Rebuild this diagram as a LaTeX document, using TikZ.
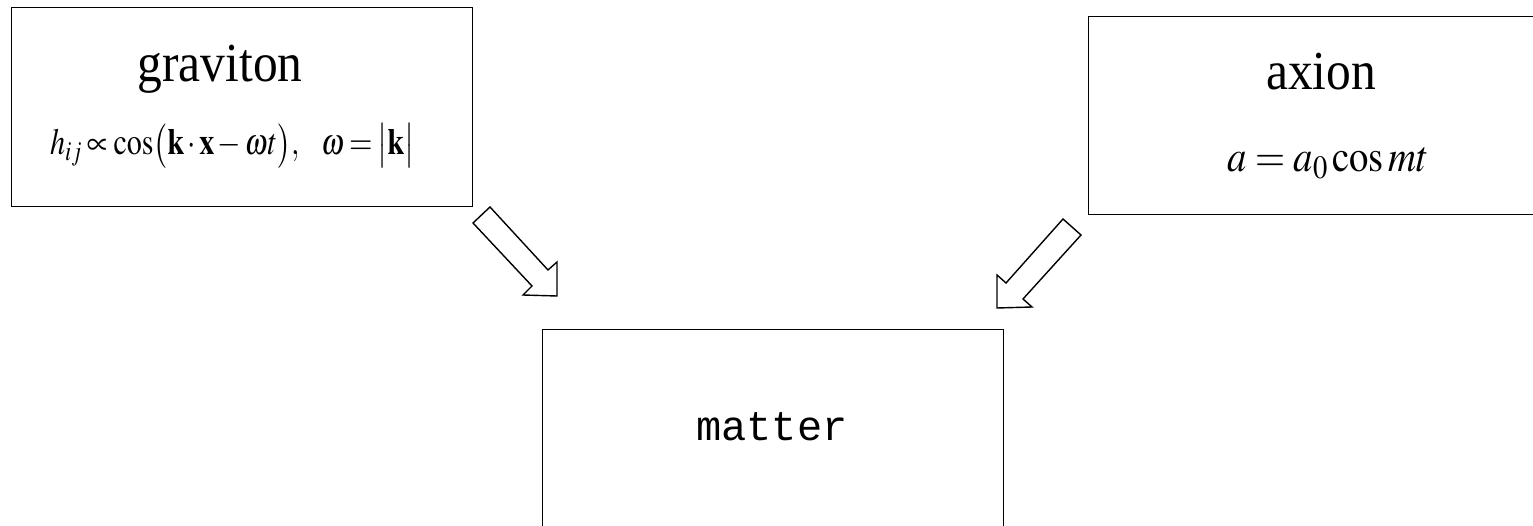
\documentclass[tikz,border=0pt]{standalone}
\usepackage{mathptmx}
\usepackage{fontspec}
\setmainfont{Liberation Serif}
\setmonofont{Liberation Mono}
\begin{document}
\begin{tikzpicture}[x=1pt,y=-1pt,
  box/.style={draw, line width=1.4pt, anchor=north west, inner sep=0pt},
  blockarrow/.style={draw, line width=1.4pt, fill=white, line join=miter},
  lbl/.style={anchor=base, inner sep=0pt},
  eq/.style={anchor=base west, inner sep=0pt}]
\useasboundingbox (0,0) rectangle (1533,526);
% boxes
\node[box, minimum width=461pt, minimum height=199pt] (grav) at (11,7) {};
\node[box, minimum width=460pt, minimum height=198pt] (axion) at (1088,16) {};
\node[box, minimum width=461pt, minimum height=230pt] (matter) at (542,329) {};
% texts
\node[lbl, xscale=0.9, font=\fontsize{55}{62}\selectfont] (gravt) at (220,82) {graviton};
\node[eq, xscale=0.815, font=\fontsize{37}{42}\selectfont] (grave) at (50,155)
  {\medmuskip=2mu\thickmuskip=3mu$h_{ij}\propto\cos\bigl(\mathbf{k}\cdot\mathbf{x}-\omega t\bigr),\hspace{0.6em}\omega=\bigl|\mathbf{k}\bigr|$};
\node[lbl, xscale=0.9, font=\fontsize{55}{62}\selectfont] (axt) at (1321,90) {axion};
\node[eq, xscale=0.88, font=\fontsize{44}{50}\selectfont] (axe) at (1227,172) {$a=a_{0}\cos mt$};
\node[lbl, font=\fontsize{42}{48}\selectfont\ttfamily] (mt) at (772,440) {matter};
% block arrows
\coordinate (g1) at (490,207);
\coordinate (a1) at (1063,219);
\draw[blockarrow] (g1) -- (548,270) -- (557,262) -- (557,296) -- (523,295) -- (532,286) -- (473,223) -- cycle;
\draw[blockarrow] (a1) -- (1081,235) -- (1023,299) -- (1032,307) -- (997,308) -- (997,275) -- (1006,283) -- cycle;
\end{tikzpicture}
\end{document}
